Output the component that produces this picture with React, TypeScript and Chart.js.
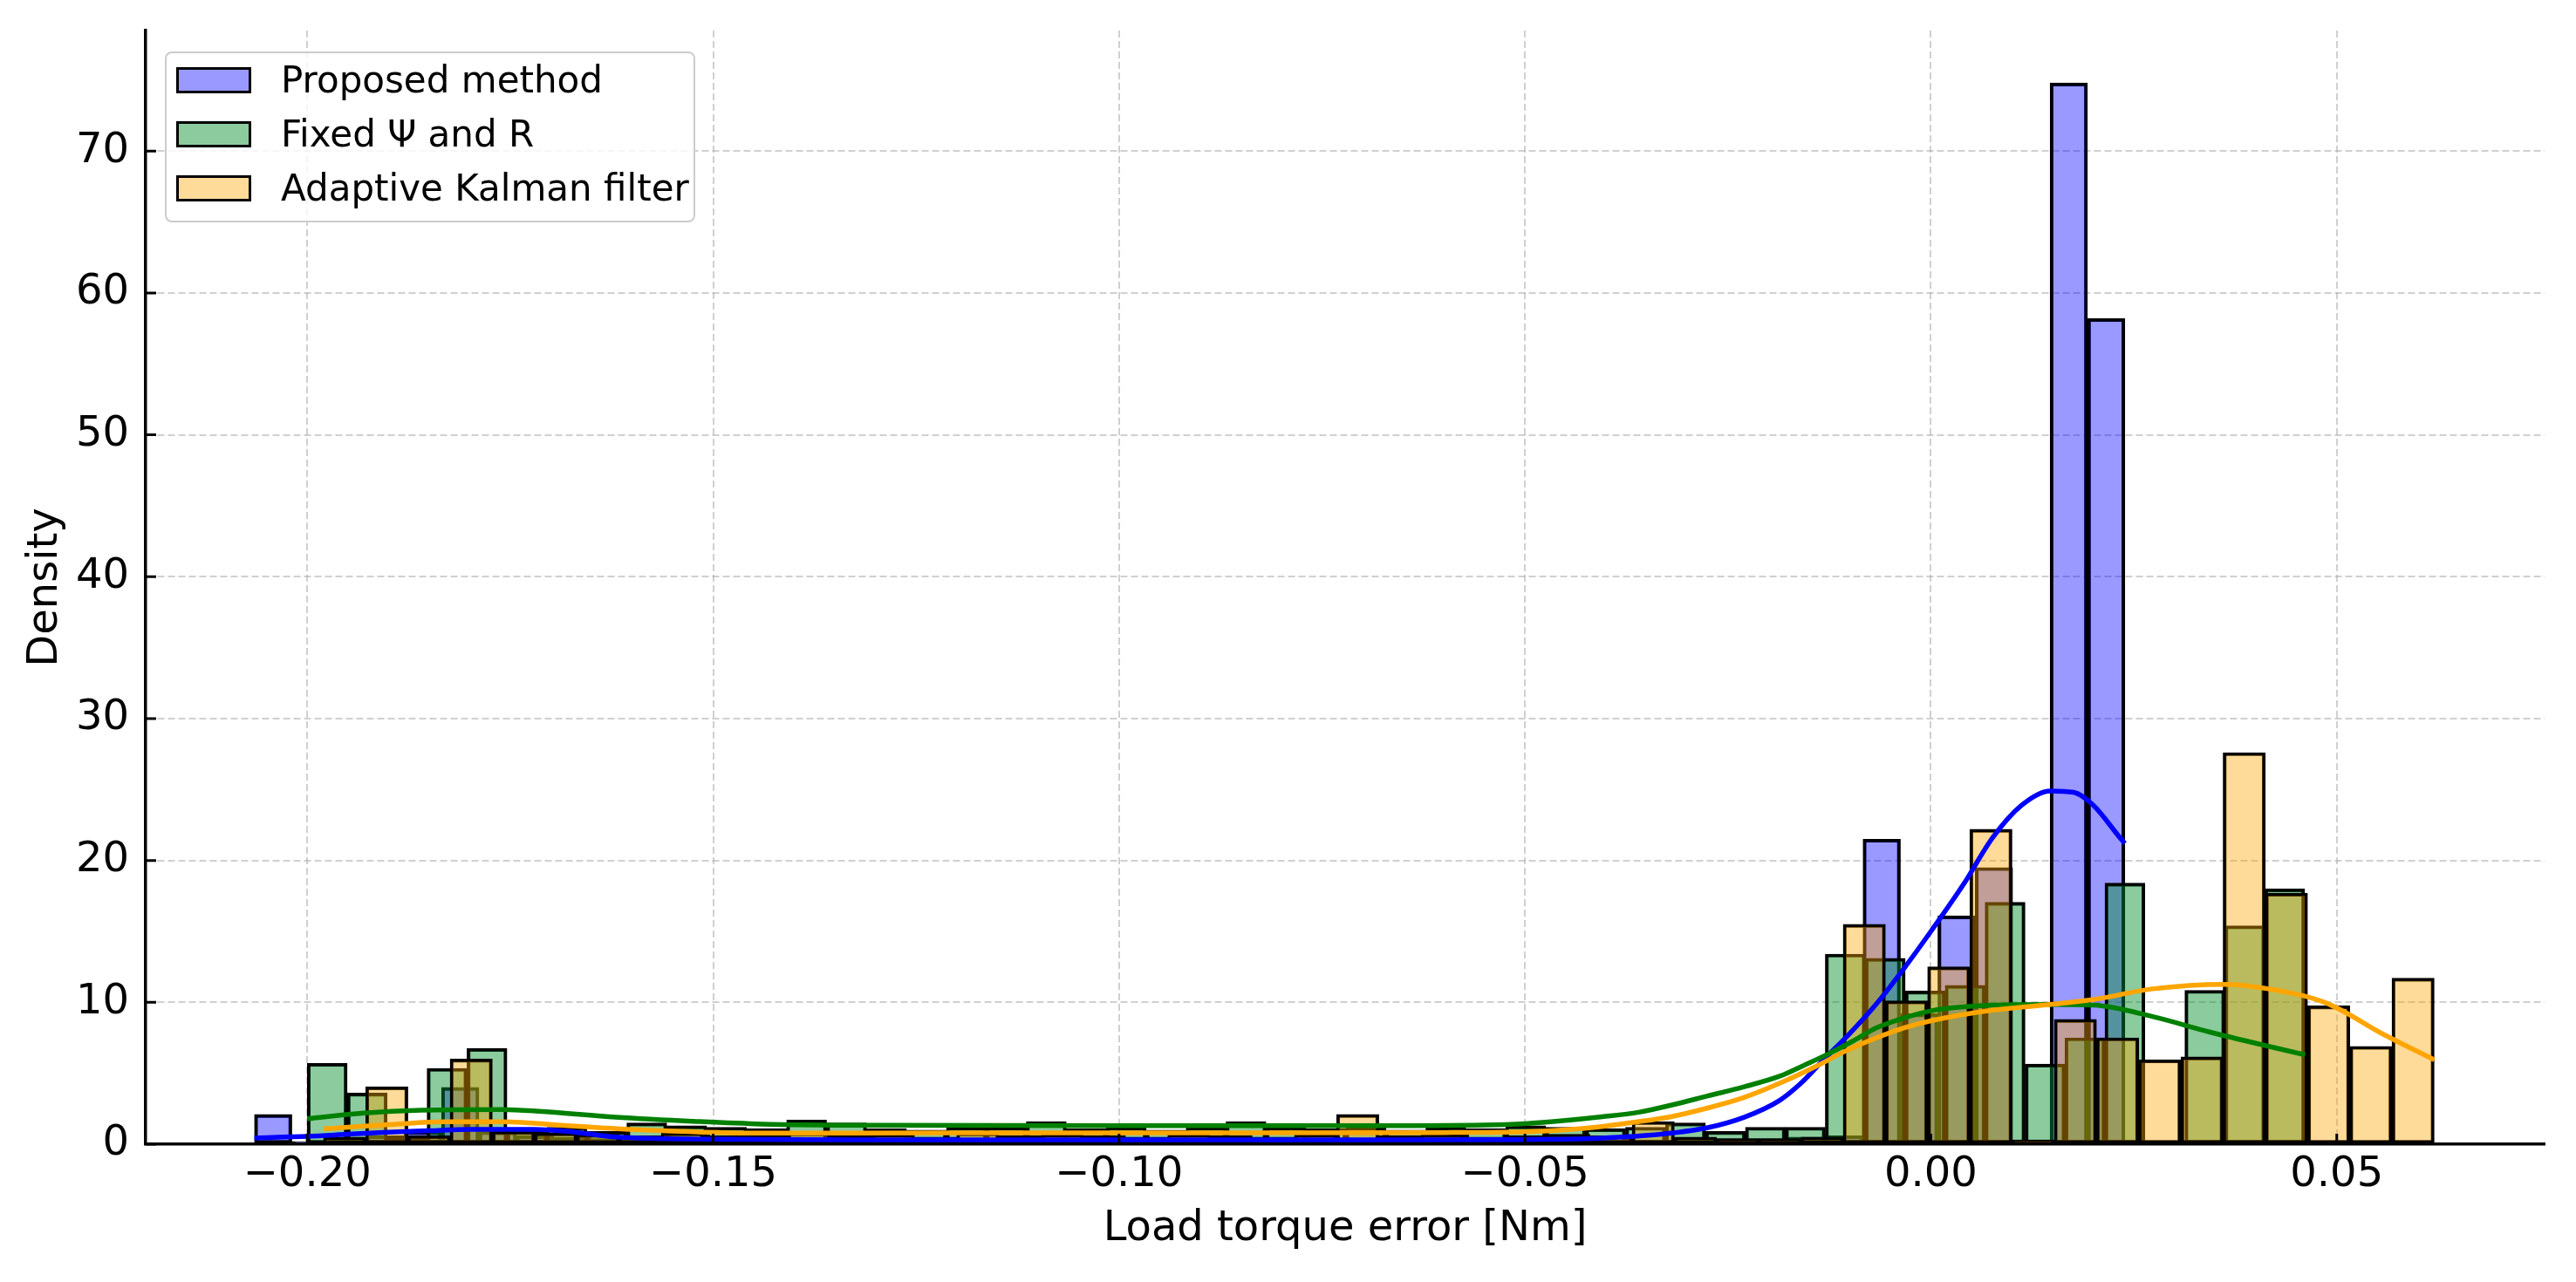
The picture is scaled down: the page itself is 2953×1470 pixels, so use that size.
import React, { useEffect, useRef } from 'react';
import { Chart, registerables } from 'chart.js';

Chart.register(...registerables);

// ---------- data ----------
const seriesNames = ['Proposed method', 'Fixed \u03A8 and R', 'Adaptive Kalman filter'];

// histogram bins (density), 50 bins each
const blueBinStart = -0.2065;
const blueBinWidth = 0.004608;
const blueDensity = [
  2.1, 0.2, 0.4, 0.6, 0.9, 4.0, 0.9, 0.6, 0.5, 0.4,
  0.3, 0.3, 0.2, 0.3, 0.2, 0.3, 0.2, 0.2, 0.3, 0.2,
  0.2, 0.3, 0.2, 0.2, 0.3, 0.2, 0.2, 0.2, 0.3, 0.2,
  0.2, 0.2, 0.3, 0.2, 0.2, 0.3, 0.2, 0.3, 0.3, 0.4,
  0.4, 0.5, 0.6, 21.5, 9.2, 16.1, 19.5, 0.3, 74.8, 58.2,
];

const greenBinStart = -0.2;
const greenBinWidth = 0.004921;
const greenDensity = [
  5.7, 3.6, 0.4, 5.35, 6.75, 1.0, 1.2, 0.9, 1.5, 1.3,
  1.2, 1.1, 1.7, 1.5, 1.1, 1.0, 1.2, 1.2, 1.6, 1.1,
  1.2, 1.0, 1.2, 1.6, 1.2, 1.1, 1.2, 1.0, 1.2, 1.1,
  1.3, 1.2, 1.1, 1.2, 1.5, 0.9, 1.2, 1.2, 13.4, 13.1,
  10.8, 11.2, 17.05, 5.65, 7.5, 18.4, 0, 10.85, 15.4, 18.0,
];

const orangeBinStart = -0.198;
const orangeBinWidth = 0.0052;
const orangeDensity = [
  0.5, 4.05, 0.6, 6.0, 0.9, 0.8, 0.7, 0.6, 0.8, 0.6,
  0.7, 0.8, 0.6, 0.7, 0.5, 0.8, 0.6, 0.7, 0.6, 0.5,
  0.7, 0.6, 0.5, 0.7, 2.1, 0.6, 0.7, 0.5, 0.6, 0.7,
  0.6, 1.6, 0.5, 0.4, 0.4, 0.5, 15.5, 10.1, 12.5, 22.2,
  0.3, 8.8, 7.5, 5.95, 6.15, 27.6, 17.7, 9.75, 6.9, 11.7,
];

// KDE curves
const blueKdeX = [-0.2065, -0.2, -0.195, -0.19, -0.185, -0.18, -0.172, -0.167, -0.162, -0.15, -0.13, -0.1, -0.07, -0.05, -0.045, -0.041, -0.0365, -0.032, -0.0276, -0.023, -0.0186, -0.016, -0.0133, -0.01, -0.0067, -0.0033, 0.0, 0.004, 0.0076, 0.0112, 0.0147, 0.0176, 0.02, 0.0233, 0.0239];
const blueKdeY = [0.45, 0.55, 0.7, 0.85, 0.95, 1.05, 1.05, 0.85, 0.5, 0.35, 0.3, 0.3, 0.3, 0.33, 0.36, 0.42, 0.55, 0.78, 1.15, 1.9, 3.1, 4.3, 5.9, 7.8, 9.9, 12.4, 15.0, 18.3, 21.6, 23.9, 24.9, 24.8, 23.9, 21.6, 21.2];

const greenKdeX = [-0.2, -0.193, -0.186, -0.176, -0.171, -0.162, -0.152, -0.144, -0.13, -0.1, -0.07, -0.055, -0.05, -0.045, -0.0405, -0.036, -0.032, -0.0275, -0.023, -0.0186, -0.0155, -0.0125, -0.0095, -0.0067, -0.0033, 0.0, 0.0076, 0.0147, 0.0201, 0.0273, 0.0344, 0.0416, 0.0461];
const greenKdeY = [1.8, 2.2, 2.4, 2.45, 2.3, 1.9, 1.6, 1.42, 1.33, 1.3, 1.3, 1.35, 1.45, 1.67, 1.93, 2.25, 2.75, 3.4, 4.05, 4.8, 5.6, 6.4, 7.3, 8.2, 8.9, 9.4, 9.8, 9.85, 9.8, 9.0, 7.9, 6.9, 6.3];

const orangeKdeX = [-0.198, -0.19, -0.183, -0.176, -0.167, -0.157, -0.144, -0.12, -0.09, -0.06, -0.05, -0.0455, -0.041, -0.0365, -0.032, -0.0275, -0.023, -0.0186, -0.0141, -0.0104, -0.0067, -0.0033, 0.0, 0.0076, 0.0147, 0.0201, 0.0273, 0.0362, 0.0416, 0.0487, 0.0559, 0.062];
const orangeKdeY = [1.07, 1.38, 1.58, 1.58, 1.27, 0.97, 0.78, 0.8, 0.8, 0.82, 0.88, 1.0, 1.22, 1.55, 1.94, 2.55, 3.3, 4.3, 5.5, 6.6, 7.5, 8.2, 8.7, 9.45, 9.85, 10.2, 10.95, 11.27, 10.95, 9.95, 7.7, 5.95];

const xTicks = [-0.2, -0.15, -0.1, -0.05, 0, 0.05];
const xTickLabels = ['\u22120.20', '\u22120.15', '\u22120.10', '\u22120.05', '0.00', '0.05'];
const yTicks = [0, 10, 20, 30, 40, 50, 60, 70];
const yTickLabels = ['0', '10', '20', '30', '40', '50', '60', '70'];

const xMin = -0.2199;
const xMax = 0.0756;
const yMax = 78.5;

// ---------- styling ----------
const FONT = 'DejaVu Sans';
const W = 2937;
const H = 1454;
const BLUE_FILL = 'rgba(0,0,255,0.4)';
const GREEN_FILL = 'rgba(0,140,40,0.45)';
const ORANGE_FILL = 'rgba(255,165,0,0.4)';
const legendPatch = ['rgb(153,153,255)', 'rgb(140,203,158)', 'rgb(255,219,153)'];

const toBins = (start: number, width: number, vals: number[]) =>
  vals.map((v, i) => ({ x: start + (i + 0.5) * width, y: v }));
const toLine = (xs: number[], ys: number[]) => xs.map((x, i) => ({ x, y: ys[i] }));

const labelFor = (ticks: number[], labels: string[], v: number) => {
  const i = ticks.findIndex((t) => Math.abs(t - v) < 1e-9);
  return i >= 0 ? labels[i] : '';
};

const inwardTicks = {
  id: 'inwardTicks',
  afterDatasetsDraw(chart: any) {
    const { ctx, chartArea, scales } = chart;
    ctx.save();
    ctx.strokeStyle = '#000';
    ctx.lineWidth = 3;
    ctx.beginPath();
    scales.x.ticks.forEach((t: any) => {
      const px = scales.x.getPixelForValue(t.value);
      ctx.moveTo(px, chartArea.bottom);
      ctx.lineTo(px, chartArea.bottom - 12);
    });
    scales.y.ticks.forEach((t: any) => {
      const py = scales.y.getPixelForValue(t.value);
      ctx.moveTo(chartArea.left, py);
      ctx.lineTo(chartArea.left + 12, py);
    });
    ctx.stroke();
    ctx.restore();
  },
};

export default function App() {
  const ref = useRef<HTMLCanvasElement | null>(null);

  useEffect(() => {
    if (!ref.current) return;
    const gridCommon = { color: 'rgba(170,170,170,0.55)', lineWidth: 2, drawTicks: false, offset: false };
    const hiddenX = {
      type: 'linear', min: xMin, max: xMax, display: false, offset: false, bounds: 'data',
      grid: { display: false, offset: false },
    };
    const barCommon = {
      type: 'bar',
      borderColor: '#000',
      borderWidth: 3.5,
      borderSkipped: false,
      barPercentage: 1,
      categoryPercentage: 1,
      grouped: false,
    };
    const lineCommon = {
      type: 'line',
      borderWidth: 5.5,
      pointRadius: 0,
      pointHoverRadius: 0,
      fill: false,
      cubicInterpolationMode: 'monotone',
      xAxisID: 'x',
      yAxisID: 'y',
      order: 0,
    };
    const chart = new Chart(ref.current, {
      type: 'bar',
      data: {
        datasets: [
          { ...lineCommon, label: 'kde3', data: toLine(orangeKdeX, orangeKdeY), borderColor: '#ffa500' },
          { ...lineCommon, label: 'kde2', data: toLine(greenKdeX, greenKdeY), borderColor: '#008000' },
          { ...lineCommon, label: 'kde1', data: toLine(blueKdeX, blueKdeY), borderColor: '#0000ff' },
          { ...barCommon, label: seriesNames[2], data: toBins(orangeBinStart, orangeBinWidth, orangeDensity), backgroundColor: ORANGE_FILL, xAxisID: 'x3', yAxisID: 'y', order: 1 },
          { ...barCommon, label: seriesNames[1], data: toBins(greenBinStart, greenBinWidth, greenDensity), backgroundColor: GREEN_FILL, xAxisID: 'x2', yAxisID: 'y', order: 2 },
          { ...barCommon, label: seriesNames[0], data: toBins(blueBinStart, blueBinWidth, blueDensity), backgroundColor: BLUE_FILL, xAxisID: 'x', yAxisID: 'y', order: 3 },
        ] as any,
      },
      options: {
        animation: false,
        responsive: false,
        devicePixelRatio: 1,
        layout: { padding: { left: 0, top: 27, right: 28, bottom: 0 } },
        plugins: { legend: { display: false }, tooltip: { enabled: false } },
        scales: {
          x: {
            type: 'linear', min: xMin, max: xMax, position: 'bottom', offset: false, bounds: 'data',
            afterBuildTicks: (s: any) => { s.ticks = xTicks.map((v) => ({ value: v })); },
            afterFit: (s: any) => { s.height = 150; s.paddingLeft = 0; s.paddingRight = 0; },
            ticks: {
              callback: (v: any) => labelFor(xTicks, xTickLabels, Number(v)),
              font: { family: FONT, size: 48 }, color: '#000', padding: 7, maxRotation: 0, autoSkip: false,
            },
            grid: gridCommon,
            border: { display: true, color: '#000', width: 3.5, dash: [8, 4] },
            title: { display: true, text: 'Load torque error [Nm]', font: { family: FONT, size: 48 }, color: '#000', padding: { top: 0, bottom: 24 } },
          },
          x2: hiddenX,
          x3: hiddenX,
          y: {
            type: 'linear', min: 0, max: yMax, position: 'left', bounds: 'data',
            afterBuildTicks: (s: any) => { s.ticks = yTicks.map((v) => ({ value: v })); },
            afterFit: (s: any) => { s.width = 159; s.paddingTop = 0; s.paddingBottom = 0; },
            ticks: {
              callback: (v: any) => labelFor(yTicks, yTickLabels, Number(v)),
              font: { family: FONT, size: 48 }, color: '#000', padding: 19, autoSkip: false,
            },
            grid: gridCommon,
            border: { display: true, color: '#000', width: 3.5, dash: [8, 4] },
            title: { display: true, text: 'Density', font: { family: FONT, size: 48 }, color: '#000', padding: { top: 16, bottom: 0 } },
          },
        } as any,
      },
      plugins: [inwardTicks],
    } as any);
    return () => chart.destroy();
  }, []);

  const rowCenters = [33, 95, 157];
  return (
    <div style={{ position: 'relative', width: W, height: H }}>
      <canvas ref={ref} width={W} height={H} style={{ display: 'block', width: W, height: H }} />
      <div
        style={{
          position: 'absolute', left: 181, top: 51, width: 608, height: 196, boxSizing: 'border-box',
          border: '2px solid #cccccc', borderRadius: 8, background: 'rgba(255,255,255,0.8)',
          fontFamily: FONT, fontSize: 42, color: '#000',
        }}
      >
        {seriesNames.map((name, i) => (
          <div key={name} style={{ position: 'absolute', left: 11, top: rowCenters[i] - 2 - 30, height: 60, display: 'flex', alignItems: 'center', whiteSpace: 'nowrap' }}>
            <div style={{ width: 86, height: 30, boxSizing: 'border-box', border: '3px solid #000', background: legendPatch[i] }} />
            <span style={{ marginLeft: 34, lineHeight: '60px' }}>{name}</span>
          </div>
        ))}
      </div>
    </div>
  );
}
